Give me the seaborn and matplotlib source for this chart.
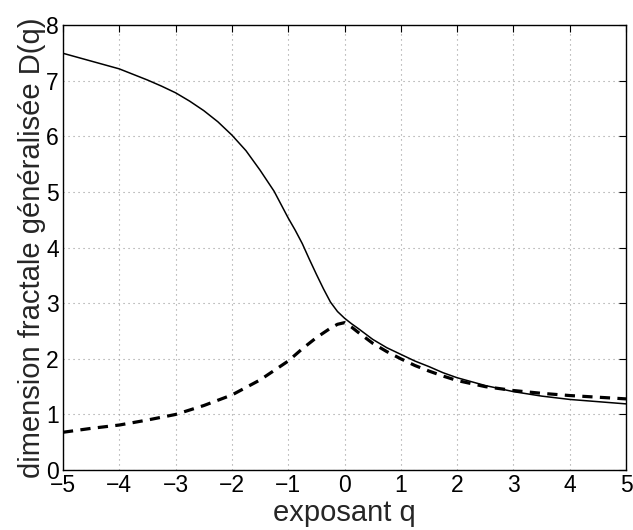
import matplotlib
matplotlib.use("Agg")
import matplotlib.pyplot as plt
import seaborn as sns
import pandas as pd

q_solid = [-5, -4.75, -4.5, -4.25, -4, -3.75, -3.5, -3.25, -3, -2.75, -2.5, -2.25, -2,
           -1.75, -1.5, -1.25, -1, -0.875, -0.75, -0.625, -0.5, -0.375, -0.25, -0.125,
           0, 0.125, 0.25, 0.5, 0.75, 1, 1.25, 1.5, 1.75, 2, 2.5, 3, 3.5, 4, 4.5, 5]
d_solid = [7.49, 7.42, 7.35, 7.28, 7.21, 7.11, 7.01, 6.90, 6.78, 6.63, 6.46, 6.26, 6.02,
           5.74, 5.39, 5.01, 4.53, 4.31, 4.07, 3.79, 3.52, 3.26, 3.02, 2.85,
           2.73, 2.63, 2.54, 2.35, 2.20, 2.08, 1.96, 1.86, 1.75, 1.66, 1.52, 1.41, 1.33, 1.27, 1.23, 1.19]

q_dashed = [-5, -4.5, -4, -3.5, -3, -2.5, -2, -1.5, -1, -0.75, -0.5, -0.25, -0.125,
            0, 0.125, 0.25, 0.5, 0.75, 1, 1.25, 1.5, 1.75, 2, 2.5, 3, 3.5, 4, 4.5, 5]
d_dashed = [0.68, 0.75, 0.81, 0.90, 1.00, 1.16, 1.35, 1.62, 1.96, 2.18, 2.38, 2.55, 2.62,
            2.65, 2.57, 2.47, 2.28, 2.13, 2.00, 1.88, 1.78, 1.69, 1.61, 1.50, 1.43, 1.38, 1.34, 1.31, 1.28]

xticks = [-5, -4, -3, -2, -1, 0, 1, 2, 3, 4, 5]
yticks = [0, 1, 2, 3, 4, 5, 6, 7, 8]

sns.set_theme(style="white")
plt.rcParams['font.family'] = ['Liberation Sans', 'DejaVu Sans']
plt.rcParams['axes.unicode_minus'] = True

fig = plt.figure(figsize=(6.33, 5.30), dpi=100)
ax = fig.add_axes([0.0995, 0.113, 0.8895, 0.840])

df_s = pd.DataFrame({"q": q_solid, "D": d_solid})
df_d = pd.DataFrame({"q": q_dashed, "D": d_dashed})
sns.lineplot(data=df_s, x="q", y="D", ax=ax, color="black", linewidth=1.1, sort=True)
sns.lineplot(data=df_d, x="q", y="D", ax=ax, color="black", linewidth=2.3,
             linestyle=(0, (3.2, 2.3)), sort=True)

ax.set_xlim(-5, 5)
ax.set_ylim(0, 8)
ax.set_xticks(xticks)
ax.set_yticks(yticks)
ax.set_xticklabels([("\u2212%d" % -t) if t < 0 else str(t) for t in xticks])
ax.grid(True, color="#999999", linestyle=(0, (1, 3.5)), linewidth=0.8)
ax.tick_params(direction="in", length=5, width=0.8, top=True, right=True,
               labelsize=16.5, colors="black", pad=3)
for s in ax.spines.values():
    s.set_color("black")
    s.set_linewidth(1.0)
ax.set_xlabel("exposant q", fontsize=21, labelpad=1)
ax.set_ylabel("dimension fractale généralisée D(q)", fontsize=21, labelpad=0)

fig.savefig("out.png", dpi=100)
